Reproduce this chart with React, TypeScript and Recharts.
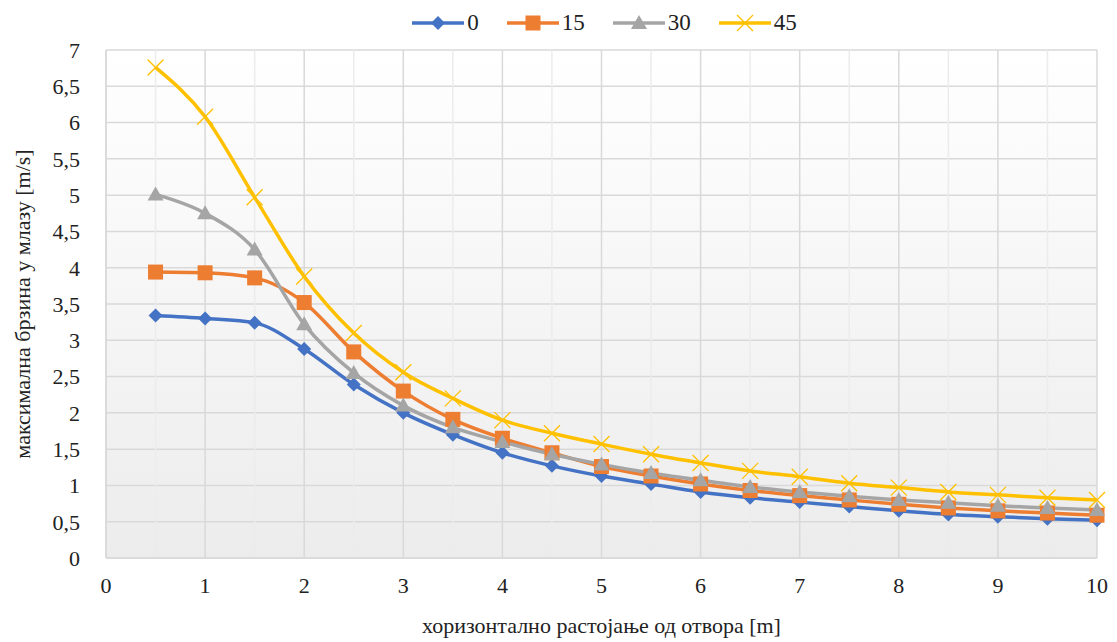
import React from 'react';
import { LineChart, Line, XAxis, YAxis, CartesianGrid, Legend, ReferenceLine, Label } from 'recharts';

const distances = [0.5, 1, 1.5, 2, 2.5, 3, 3.5, 4, 4.5, 5, 5.5, 6, 6.5, 7, 7.5, 8, 8.5, 9, 9.5, 10];
const s0 = [3.34, 3.30, 3.24, 2.88, 2.39, 2.0, 1.70, 1.45, 1.27, 1.13, 1.02, 0.91, 0.83, 0.77, 0.71, 0.65, 0.60, 0.57, 0.54, 0.52];
const s15 = [3.94, 3.93, 3.86, 3.52, 2.84, 2.30, 1.91, 1.65, 1.45, 1.26, 1.13, 1.02, 0.93, 0.86, 0.80, 0.74, 0.69, 0.65, 0.62, 0.59];
const s30 = [5.01, 4.75, 4.25, 3.22, 2.55, 2.10, 1.80, 1.60, 1.43, 1.29, 1.17, 1.07, 0.98, 0.91, 0.85, 0.80, 0.76, 0.72, 0.69, 0.66];
const s45 = [6.76, 6.08, 4.97, 3.88, 3.10, 2.56, 2.20, 1.90, 1.72, 1.57, 1.43, 1.31, 1.20, 1.12, 1.03, 0.97, 0.91, 0.87, 0.83, 0.80];
const seriesNames = ['0', '15', '30', '45'];
const xTicks = [0, 1, 2, 3, 4, 5, 6, 7, 8, 9, 10];
const xMinor = [0.5, 1.5, 2.5, 3.5, 4.5, 5.5, 6.5, 7.5, 8.5, 9.5];
const yTicks = [0, 0.5, 1, 1.5, 2, 2.5, 3, 3.5, 4, 4.5, 5, 5.5, 6, 6.5, 7];

const data = distances.map((d, i) => ({ x: d, s0: s0[i], s15: s15[i], s30: s30[i], s45: s45[i] }));

const COLORS = ['#4472C4', '#ED7D31', '#A5A5A5', '#FFC000'];
const FONT = '"Times New Roman", "Liberation Serif", Tinos, "DejaVu Serif", serif';
const TEXT = '#222';

const Diamond = ({ cx, cy, color }: any) => (
  <path d={`M${cx},${cy - 7} L${cx + 7},${cy} L${cx},${cy + 7} L${cx - 7},${cy} Z`} fill={color} />
);
const Square = ({ cx, cy, color }: any) => (
  <rect x={cx - 7.5} y={cy - 7.5} width={15} height={15} fill={color} />
);
const Triangle = ({ cx, cy, color }: any) => (
  <path d={`M${cx},${cy - 8} L${cx + 8},${cy + 6} L${cx - 8},${cy + 6} Z`} fill={color} />
);
const Cross = ({ cx, cy, color }: any) => (
  <path d={`M${cx - 8},${cy - 8} L${cx + 8},${cy + 8} M${cx + 8},${cy - 8} L${cx - 8},${cy + 8}`} stroke={color} strokeWidth={1.3} fill="none" />
);
const MARKERS = [Diamond, Square, Triangle, Cross];

const makeDot = (idx: number) => (props: any) => {
  const M = MARKERS[idx];
  if (props.cx == null || props.cy == null) return <g key={props.key} />;
  return <M key={props.key} cx={props.cx} cy={props.cy} color={COLORS[idx]} />;
};

const LegendContent = () => (
  <div style={{ display: 'flex', justifyContent: 'center', alignItems: 'center', gap: 26, paddingLeft: 90, fontFamily: FONT, fontSize: 23, color: TEXT, height: 28 }}>
    {seriesNames.map((n, i) => {
      const M = MARKERS[i];
      return (
        <div key={n} style={{ display: 'flex', alignItems: 'center' }}>
          <svg width={56} height={24}>
            <line x1={2} y1={12} x2={54} y2={12} stroke={COLORS[i]} strokeWidth={3.5} />
            <M cx={28} cy={12} color={COLORS[i]} />
          </svg>
          <span style={{ marginLeft: 1, fontFamily: FONT }}>{n}</span>
        </div>
      );
    })}
  </div>
);

const tickStyle = { fontSize: 22, fill: TEXT, fontFamily: FONT } as any;

export default function App() {
  const keys = ['s0', 's15', 's30', 's45'];
  return (
    <div style={{ position: 'absolute', left: 0, top: 0, width: 1117, height: 642, background: '#fff', fontFamily: FONT }}>
      <LineChart width={1117} height={642} data={data} margin={{ top: 22, right: 20, bottom: 0, left: 0 }}>
        <defs>
          <linearGradient id="bgGrad" x1="0" y1="0" x2="0" y2="1">
            <stop offset="0%" stopColor="#ffffff" />
            <stop offset="100%" stopColor="#ececec" />
          </linearGradient>
        </defs>
        <CartesianGrid fill="url(#bgGrad)" stroke="#d9d9d9" strokeWidth={1.5} />
        {xMinor.map((v) => (
          <ReferenceLine key={v} x={v} stroke="#ececec" strokeWidth={1.5} />
        ))}
        <XAxis
          type="number"
          dataKey="x"
          domain={[0, 10]}
          ticks={xTicks}
          height={84}
          tickLine={false}
          axisLine={{ stroke: '#d9d9d9', strokeWidth: 1.5 }}
          tickMargin={13}
          tick={tickStyle}
          interval={0}
        >
          <Label value="хоризонтално растојање од отвора [m]" position="insideBottom" offset={9} fontFamily={FONT} style={{ fontFamily: FONT, fontSize: 22, fill: TEXT }} />
        </XAxis>
        <YAxis
          type="number"
          domain={[0, 7]}
          ticks={yTicks}
          width={106}
          tickLine={false}
          axisLine={{ stroke: '#d9d9d9', strokeWidth: 1.5 }}
          tickMargin={20}
          tickFormatter={(v: number) => String(v).replace('.', ',')}
          tick={tickStyle}
          interval={0}
        >
          <Label value="максимална брзина у млазу [m/s]" angle={-90} position="insideLeft" offset={22} fontFamily={FONT} style={{ textAnchor: 'middle', fontFamily: FONT, fontSize: 22, fill: TEXT }} />
        </YAxis>
        <Legend verticalAlign="top" align="center" height={28} content={() => <LegendContent />} wrapperStyle={{ top: 9, left: 0, width: 1117 }} />
        {keys.map((k, i) => (
          <Line
            key={k}
            type="monotone"
            dataKey={k}
            name={seriesNames[i]}
            stroke={COLORS[i]}
            strokeWidth={3.5}
            dot={makeDot(i)}
            activeDot={false}
            isAnimationActive={false}
          />
        ))}
      </LineChart>
    </div>
  );
}
